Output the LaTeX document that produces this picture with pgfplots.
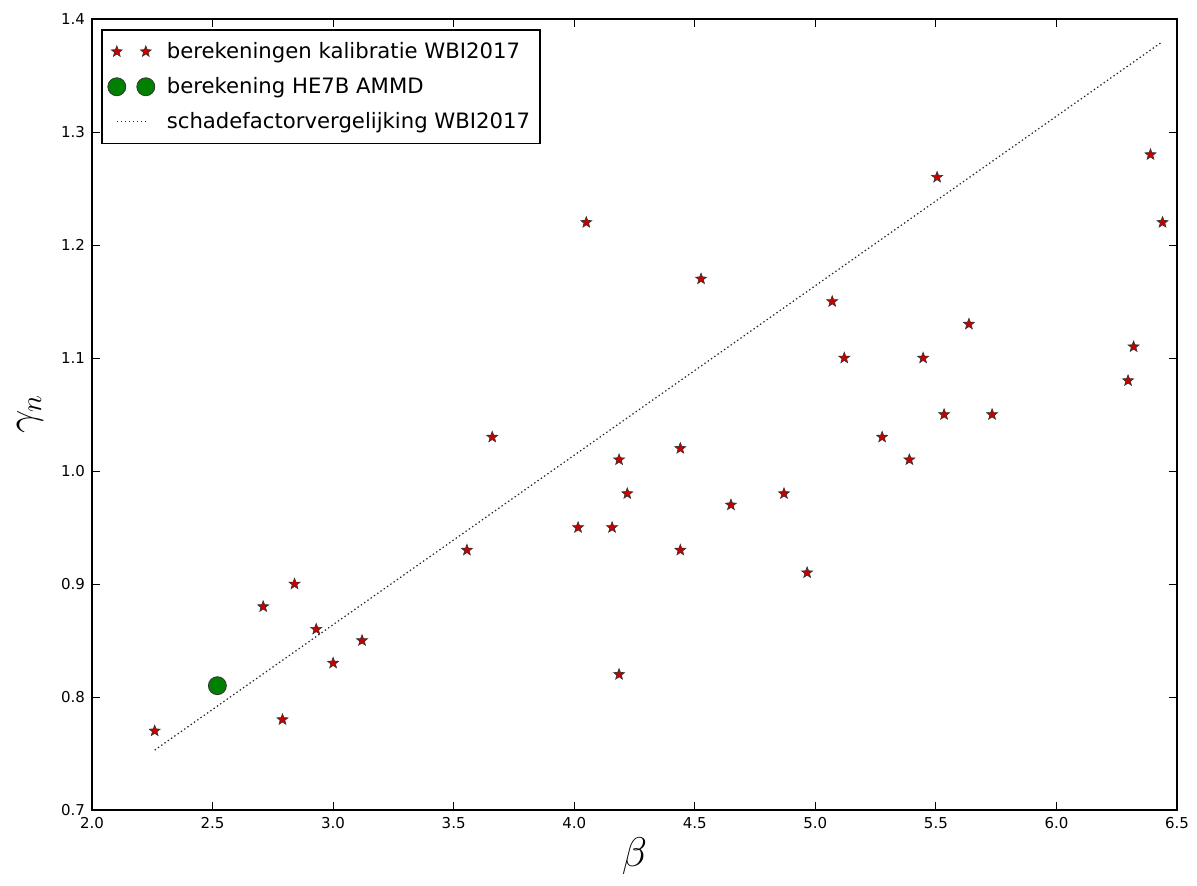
\documentclass[border=0pt]{standalone}
\usepackage{fontspec}
\setmainfont{DejaVu Sans}
\usepackage{pgfplots}
\pgfplotsset{compat=1.18}

% filled five-pointed star marker (matplotlib '*')
\pgfdeclareplotmark{fstar}{%
  \pgfpathmoveto{\pgfpointpolar{90}{\pgfplotmarksize}}%
  \pgfpathlineto{\pgfpointpolar{126}{0.42\pgfplotmarksize}}%
  \pgfpathlineto{\pgfpointpolar{162}{\pgfplotmarksize}}%
  \pgfpathlineto{\pgfpointpolar{198}{0.42\pgfplotmarksize}}%
  \pgfpathlineto{\pgfpointpolar{234}{\pgfplotmarksize}}%
  \pgfpathlineto{\pgfpointpolar{270}{0.42\pgfplotmarksize}}%
  \pgfpathlineto{\pgfpointpolar{306}{\pgfplotmarksize}}%
  \pgfpathlineto{\pgfpointpolar{342}{0.42\pgfplotmarksize}}%
  \pgfpathlineto{\pgfpointpolar{18}{\pgfplotmarksize}}%
  \pgfpathlineto{\pgfpointpolar{54}{0.42\pgfplotmarksize}}%
  \pgfpathclose
  \pgfusepathqfillstroke
}

\definecolor{mplred}{RGB}{200,0,0}
\definecolor{mplgreen}{RGB}{0,128,0}

% legend images: two separate marks, or a short line (with room before the text)
\pgfplotsset{
  twomarks/.style={legend image code/.code={
      \path[draw=none,fill=none] (-3pt,0pt) rectangle (23pt,0.1pt);
      \draw[##1] plot coordinates {(0pt,0pt)};
      \draw[##1] plot coordinates {(14.5pt,0pt)};}},
  shortline/.style={legend image code/.code={
      \path[draw=none,fill=none] (-3pt,0pt) rectangle (23pt,0.1pt);
      \draw[##1] (0pt,0pt) -- (14.5pt,0pt);}},
}

\begin{document}
\begin{tikzpicture}
\path[use as bounding box] (-46pt,-37.5pt) rectangle (552.5pt,405pt);
\begin{axis}[
    at={(0,0)}, anchor=south west,
    scale only axis,
    width=542.5pt, height=395.5pt,
    xmin=2.0, xmax=6.5,
    ymin=0.7, ymax=1.4,
    xtick={2.0,2.5,...,6.5},
    ytick={0.7,0.8,...,1.4},
    xticklabel style={/pgf/number format/.cd,fixed,fixed zerofill,precision=1},
    yticklabel style={/pgf/number format/.cd,fixed,fixed zerofill,precision=1},
    /pgf/number format/assume math mode=true,
    tick label style={font=\fontsize{7.5}{9}\selectfont},
    tick align=inside,
    major tick length=4pt,
    tick style={black, line width=0.5pt},
    axis line style={line width=0.9pt},
    xlabel={$\beta$},
    ylabel={$\gamma_n$},
    label style={font=\fontsize{20}{24}\selectfont},
    xlabel style={at={(axis description cs:0.5,0)}, anchor=center, yshift=-23pt},
    ylabel style={at={(axis description cs:0,0.5)}, anchor=center, yshift=31pt},
    legend cell align=left,
    legend style={
        at={(axis description cs:0.0083,0.987)}, anchor=north west,
        draw=black, line width=0.8pt, fill=white,
        font=\fontsize{10.6}{12}\selectfont,
        row sep=4pt, inner xsep=3pt, inner ysep=4pt,
        nodes={inner sep=2pt},
    },
]

\addplot[only marks, mark=fstar, mark size=2.9pt,
    mark options={fill=mplred, draw=black!80, line width=0.3pt}, twomarks]
coordinates {
(2.26,0.77) (2.71,0.88) (2.79,0.78) (2.84,0.90) (2.93,0.86)
(3.00,0.83) (3.12,0.85) (3.555,0.93) (3.66,1.03) (4.016,0.95)
(4.05,1.22) (4.157,0.95) (4.186,1.01) (4.186,0.82) (4.22,0.98)
(4.44,1.02) (4.44,0.93) (4.526,1.17) (4.65,0.97) (4.87,0.98)
(4.966,0.91) (5.07,1.15) (5.12,1.10) (5.277,1.03) (5.39,1.01)
(5.447,1.10) (5.505,1.26) (5.534,1.05) (5.637,1.13) (5.733,1.05)
(6.297,1.08) (6.32,1.11) (6.39,1.28) (6.44,1.22)
};
\addlegendentry{berekeningen kalibratie WBI2017}

\addplot[only marks, mark=*, mark size=4.5pt,
    mark options={fill=mplgreen, draw=black!80, line width=0.4pt}, twomarks]
coordinates {(2.52,0.81)};
\addlegendentry{berekening HE7B AMMD}

\addplot[black!85, line width=0.6pt, dash pattern=on 0.7pt off 1.3pt, shortline]
coordinates {(2.26,0.753) (6.44,1.380)};
\addlegendentry{schadefactorvergelijking WBI2017}

\end{axis}
\end{tikzpicture}
\end{document}
